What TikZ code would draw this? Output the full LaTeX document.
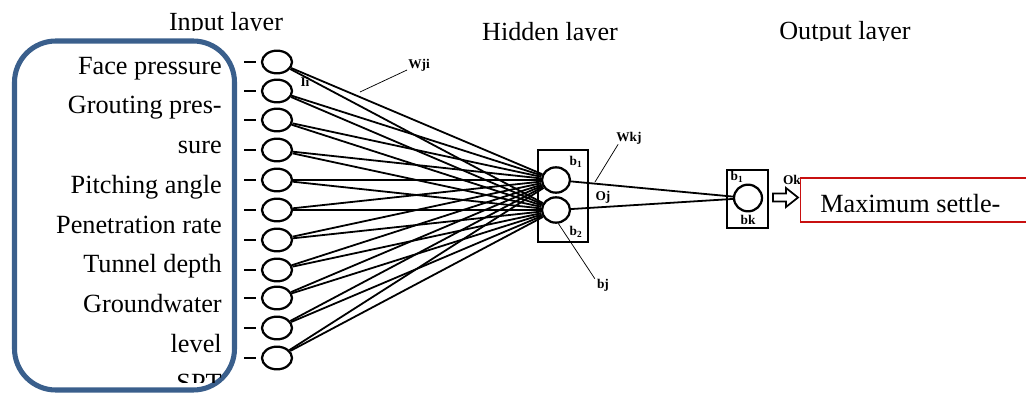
\documentclass[tikz,border=0pt]{standalone}
\usepackage{fontspec}
\setmainfont{Liberation Serif}
\usetikzlibrary{shapes.geometric}
\definecolor{boxblue}{RGB}{58,95,140}
\definecolor{boxred}{RGB}{200,16,16}
\begin{document}
\begin{tikzpicture}[x=0.75pt,y=-0.75pt,
  title/.style={font=\fontsize{19.6}{22}\selectfont, inner sep=0pt, anchor=base},
  feat/.style={font=\fontsize{19.7}{22}\selectfont, inner sep=0pt, anchor=base east},
  neuron/.style={ellipse, draw, line width=1.7pt, inner sep=0pt},
  inneuron/.style={neuron, minimum width=22.5pt, minimum height=17pt},
  lab/.style={font=\bfseries\fontsize{10}{11}\selectfont, inner sep=0pt},
  conn/.style={line width=1.35pt},
  lead/.style={line width=0.55pt},
  frame/.style={draw, line width=1.6pt, inner sep=0pt},
]
\useasboundingbox (0,0) rectangle (1026,393);
\clip (0,0) rectangle (1026,393);

% layer titles (clipped at baseline as in the reference)
\begin{scope}
  \clip (0,0) rectangle (1026,30.5);
  \node[title] (tin) at (226,30) {Input layer};
\end{scope}
\begin{scope}
  \clip (0,0) rectangle (1026,40.5);
  \node[title] (thid) at (550,40) {Hidden layer};
\end{scope}
\begin{scope}
  \clip (0,0) rectangle (1026,40);
  \node[title] (tout) at (845,39.5) {Output layer};
\end{scope}

% blue rounded frame with input names
\draw[boxblue, line width=3.8pt, rounded corners=31pt] (14.5,41) rectangle (234.5,390);
\node[feat] (f1) at (222,74) {Face pressure};
\node[feat] (f2) at (222,113.5) {Grouting pres-};
\node[feat] (f3) at (222,153) {sure};
\node[feat] (f4) at (222,193) {Pitching angle};
\node[feat] (f5) at (222,233) {Penetration rate};
\node[feat] (f6) at (222,272.5) {Tunnel depth};
\node[feat] (f7) at (222,312) {Groundwater};
\node[feat] (f8) at (222,352) {level};
\begin{scope}
  \clip (0,0) rectangle (1026,382);
  \node[feat] (f9) at (222,391) {SPT};
\end{scope}

% input neurons
\foreach \i/\y in {1/62,2/91,3/120,4/150,5/180,6/210,7/240,8/270,9/298,10/328,11/358}{
  \node[inneuron] (in\i) at (277,\y) {};
  \draw[line width=1.7pt] (in\i.west) ++(-5,0) -- ++(-12,0);
}

% hidden layer
\draw[frame] (538,150) rectangle (588,242);
\node[neuron, minimum width=21pt, minimum height=19pt] (h1) at (556,180) {};
\node[neuron, minimum width=21pt, minimum height=19pt] (h2) at (556,210) {};

% output layer
\draw[frame] (727,170) rectangle (768,228);
\node[neuron, minimum width=21pt, minimum height=20pt] (o1) at (748,198) {};

% connections
\foreach \i in {1,...,11}{
  \draw[conn] (in\i) -- (h1);
  \draw[conn] (in\i) -- (h2);
}
\draw[conn] (h1) -- (o1);
\draw[conn] (h2) -- (o1);

% small labels
\node[lab] (wji) at (419,65) {Wji};
\coordinate (wjip) at (360,92);
\draw[lead] (407,70) -- (wjip);
\node[lab] (ii) at (305,82) {Ii};
\node[lab] (wkj) at (629,138) {Wkj};
\coordinate (wkjp) at (595,182);
\draw[lead] (wkj.south west) ++(2,0) -- (wkjp);
\node[lab] (oj) at (603,197) {Oj};
\node[lab] (hb1) at (576,162) {b\textsubscript{1}};
\node[lab] (hb2) at (576,232) {b\textsubscript{2}};
\node[lab] (bj) at (603,285) {bj};
\draw[lead] (bj.north west) ++(-2,0) -- (h2.-80);
\node[lab] (ob1) at (737,177) {b\textsubscript{1}};
\node[lab] (obk) at (748,220) {bk};
\node[lab] (ok) at (792,180) {Ok};

% output arrow and result box
\draw[line width=1.3pt, fill=white, line join=miter]
  (773,193.5) -- (786,193.5) -- (786,188) -- (798,197.5) -- (786,207) -- (786,201.5) -- (773,201.5) -- cycle;
\node[draw=boxred, fill=white, line width=1.3pt, anchor=north west, minimum width=173pt, minimum height=33pt, inner sep=0pt] (res) at (799.5,177) {};
\node[feat, anchor=base west] (restext) at (820,212) {Maximum settle-};
\end{tikzpicture}
\end{document}
